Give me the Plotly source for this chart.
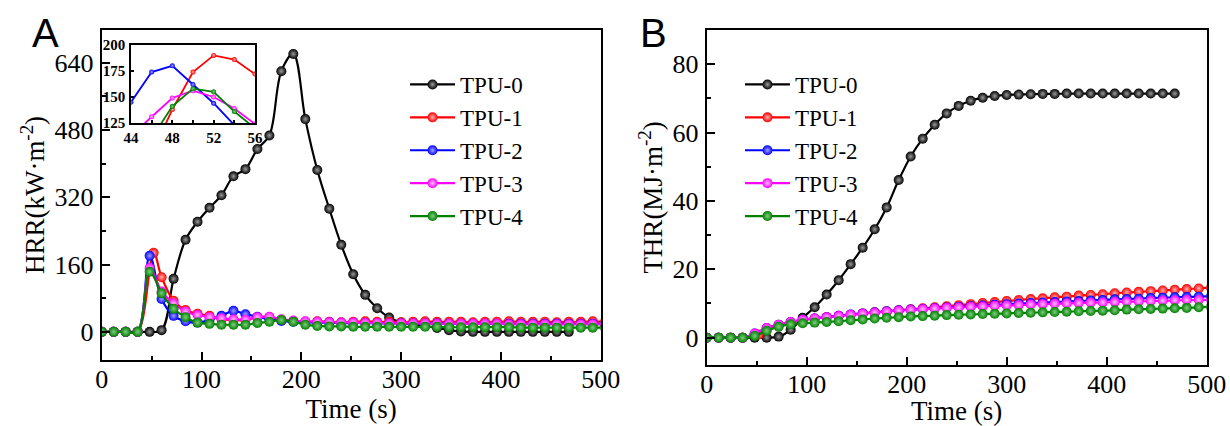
import plotly.graph_objects as go

# time axis (s); TPU-1 was sampled with its peak at 52 s
time_s = [0, 12, 24, 36, 48, 60, 72, 84, 96, 108, 120, 132, 144, 156, 168, 180, 192, 204, 216, 228,
          240, 252, 264, 276, 288, 300, 312, 324, 336, 348, 360, 372, 384, 396, 408, 420, 432, 444,
          456, 468, 480, 492, 504]
time_tpu0 = time_s[:40]
time_tpu1 = [0, 12, 24, 36, 52, 60, 72, 84, 96, 108, 120, 132, 144, 156, 168, 180, 192, 204, 216, 228,
             240, 252, 264, 276, 288, 300, 312, 324, 336, 348, 360, 372, 384, 396, 408, 420, 432, 444,
             456, 468, 480, 492, 504]

# heat release rate, kW/m2
hrr_tpu0 = [0, 0, 0, 0, 0, 4, 126, 219, 262, 295, 325, 370, 387, 435, 467, 620, 661, 506, 385, 293,
            207, 137, 88, 56, 34, 22, 18, 14, 9, 4, 1, 0, 0, 0, 0, 0, 0, 0, 0, 0]
hrr_tpu1 = [0, 0, 0, 0, 188, 130, 74, 52, 43, 38, 30, 28, 28, 35, 35, 28, 25, 24, 25, 24, 23, 24,
            25, 24, 24, 23, 24, 25, 24, 24, 24, 23, 24, 24, 25, 24, 24, 24, 23, 24, 24, 25, 24]
hrr_tpu2 = [0, 0, 0, 0, 181, 78, 38, 25, 22, 28, 38, 50, 42, 36, 30, 26, 24, 23, 22, 22, 21, 21,
            21, 20, 20, 20, 20, 20, 20, 19, 19, 19, 19, 19, 19, 19, 19, 19, 19, 19, 19, 19, 19]
hrr_tpu3 = [0, 0, 0, 0, 152, 96, 68, 48, 40, 35, 32, 30, 29, 35, 36, 30, 27, 25, 24, 23, 22, 22,
            21, 21, 20, 20, 20, 20, 19, 19, 19, 19, 19, 19, 18, 18, 18, 18, 18, 18, 18, 18, 18]
hrr_tpu4 = [0, 0, 0, 0, 143, 92, 55, 35, 22, 19, 17, 17, 17, 21, 24, 28, 24, 17, 14, 13, 13, 12,
            12, 12, 12, 12, 12, 12, 12, 11, 11, 11, 11, 11, 11, 10, 10, 10, 10, 10, 10, 10, 10]

# total heat release, MJ/m2
thr_tpu0 = [0, 0, 0, 0, 0, 0, 0.3, 2.3, 5.8, 8.9, 12.6, 16.8, 21.5, 26.3, 31.7, 38.1, 46.1, 53.0,
            58.2, 62.3, 65.6, 67.8, 69.3, 70.2, 70.7, 71.0, 71.1, 71.2, 71.3, 71.3, 71.4, 71.4, 71.4,
            71.4, 71.4, 71.4, 71.4, 71.4, 71.4, 71.4]
thr_tpu1 = [0, 0, 0, 0, 0.9, 2.4, 3.6, 4.5, 5.1, 5.6, 6.0, 6.4, 6.7, 7.1, 7.4, 7.7, 8.0, 8.3, 8.6,
            8.9, 9.2, 9.5, 9.8, 10.1, 10.4, 10.7, 11.0, 11.3, 11.5, 11.8, 12.0, 12.3, 12.5, 12.7,
            13.0, 13.2, 13.4, 13.6, 13.8, 14.0, 14.2, 14.4, 14.6]
thr_tpu2 = [0, 0, 0, 0, 1.2, 2.8, 3.8, 4.6, 5.2, 5.6, 6.0, 6.4, 6.8, 7.1, 7.4, 7.7, 8.0, 8.2, 8.4,
            8.6, 8.8, 9.0, 9.2, 9.4, 9.6, 9.8, 10.0, 10.1, 10.3, 10.4, 10.6, 10.7, 10.9, 11.0, 11.2,
            11.3, 11.4, 11.6, 11.7, 11.8, 11.9, 12.0, 12.1]
thr_tpu3 = [0, 0, 0, 0, 1.2, 2.8, 3.8, 4.6, 5.2, 5.6, 6.0, 6.3, 6.7, 7.0, 7.3, 7.6, 7.9, 8.1, 8.3,
            8.5, 8.7, 8.8, 9.0, 9.1, 9.3, 9.4, 9.5, 9.7, 9.8, 9.9, 10.0, 10.1, 10.2, 10.3, 10.4,
            10.5, 10.6, 10.7, 10.8, 10.9, 11.0, 11.0, 11.1]
thr_tpu4 = [0, 0, 0, 0, 0.5, 2.0, 3.2, 3.9, 4.2, 4.4, 4.6, 4.8, 5.1, 5.3, 5.6, 5.8, 6.0, 6.2, 6.3,
            6.4, 6.6, 6.7, 6.8, 6.9, 7.0, 7.1, 7.2, 7.3, 7.4, 7.5, 7.6, 7.7, 7.8, 7.9, 8.0, 8.2,
            8.3, 8.4, 8.5, 8.6, 8.7, 8.9, 9.0]

# inset: HRR peak region, 2 s sampling
inset_time = [44, 46, 48, 50, 52, 54, 56]
inset_tpu1 = [40, 95, 138, 174, 190, 186, 172]
inset_tpu2 = [145, 174, 180, 162, 144, 123, 100]
inset_tpu3 = [112, 131, 149, 156, 150, 139, 124]
inset_tpu4 = [80, 110, 141, 158, 155, 136, 120]

names = ["TPU-0", "TPU-1", "TPU-2", "TPU-3", "TPU-4"]
colors = ["#000000", "#ff0000", "#0000ff", "#ff00ff", "#008000"]
shine = ["#9a9a9a", "#ffb0b0", "#a0a0ff", "#ffc0ff", "#7fcc7f"]

SERIF = "Liberation Serif, Times New Roman, serif"

fig = go.Figure()


def add_series(x, y, i, xaxis, yaxis, legend=None, size=10, width=2.2, spline=True):
    fig.add_trace(go.Scatter(
        x=x, y=y, name=names[i], mode="lines+markers",
        line=dict(color=colors[i], width=width, shape="spline" if spline else "linear", smoothing=1),
        marker=dict(size=size, color=colors[i], line=dict(width=0),
                    gradient=dict(type="radial", color=shine[i])),
        xaxis=xaxis, yaxis=yaxis,
        legend=legend or "legend", showlegend=legend is not None,
    ))


hrr = [hrr_tpu0, hrr_tpu1, hrr_tpu2, hrr_tpu3, hrr_tpu4]
thr = [thr_tpu0, thr_tpu1, thr_tpu2, thr_tpu3, thr_tpu4]
times = [time_tpu0, time_tpu1, time_s, time_s, time_s]
for i in range(5):
    add_series(times[i], hrr[i], i, "x", "y", legend="legend")
for i in range(5):
    add_series(times[i], thr[i], i, "x3", "y3", legend="legend2")
for i, vals in zip([1, 2, 3, 4], [inset_tpu1, inset_tpu2, inset_tpu3, inset_tpu4]):
    add_series(inset_time, vals, i, "x2", "y2", size=5, width=1.8, spline=False)

frame = dict(showline=True, linecolor="black", linewidth=2, mirror=True, showgrid=False,
             zeroline=False, automargin=False, ticks="inside", ticklen=8, tickwidth=1.5,
             tickcolor="black", tickfont=dict(family=SERIF, size=26, color="black"),
             ticklabeloverflow="allow")
minor = dict(ticks="inside", ticklen=4, tickwidth=1.5, tickcolor="black", showgrid=False)
title_font = dict(family=SERIF, size=27, color="black")
legend_style = dict(font=dict(family=SERIF, size=23, color="black"), bgcolor="rgba(0,0,0,0)",
                    xanchor="left", yanchor="top", itemwidth=45, tracegroupgap=0)
letter_font = dict(family="Liberation Sans, Arial", size=40, color="black")

fig.update_layout(
    template="none",
    width=1230, height=426,
    margin=dict(l=0, r=0, t=0, b=0),
    paper_bgcolor="white", plot_bgcolor="white",
    font=dict(family=SERIF, color="black"),
    xaxis=dict(frame, domain=[0.0827, 0.4884], range=[0, 500], dtick=100, anchor="y",
               minor=dict(minor, dtick=50), ticklabelstandoff=-5,
               title=dict(text="Time (s)", font=title_font, standoff=1)),
    yaxis=dict(frame, domain=[0.1549, 0.9296], range=[-67, 718], dtick=160, anchor="x",
               minor=dict(minor, dtick=80), ticklabelstandoff=1,
               title=dict(text="HRR(kW·m<sup>-2</sup>)", font=title_font, standoff=2)),
    xaxis3=dict(frame, domain=[0.5745, 0.9811], range=[0, 500], dtick=100, anchor="y3",
                minor=dict(minor, dtick=50), ticklabelstandoff=-5,
                title=dict(text="Time (s)", font=title_font, standoff=1)),
    yaxis3=dict(frame, domain=[0.1432, 0.9296], range=[-8, 90], dtick=20, anchor="x3",
                minor=dict(minor, dtick=10), ticklabelstandoff=1,
                title=dict(text="THR(MJ·m<sup>-2</sup>)", font=title_font, standoff=2)),
    xaxis2=dict(frame, domain=[0.1065, 0.2073], range=[44, 56], anchor="y2",
                tickvals=[44, 48, 52, 56], ticklen=3, linewidth=1.5,
                tickfont=dict(family=SERIF, size=15, color="black", weight="bold"),
                minor=dict(minor, dtick=2, ticklen=3)),
    yaxis2=dict(frame, domain=[0.7113, 0.8944], range=[125, 200], dtick=25, anchor="x2",
                ticklen=3, linewidth=1.5, ticklabelstandoff=1,
                tickfont=dict(family=SERIF, size=15, color="black", weight="bold")),
    legend=dict(legend_style, x=0.3293, y=0.8521),
    legend2=dict(legend_style, x=0.6016, y=0.8521),
    annotations=[
        dict(text="A", x=0.0244, y=0.978, xref="paper", yref="paper", xanchor="left",
             yanchor="top", showarrow=False, font=letter_font),
        dict(text="B", x=0.5187, y=0.978, xref="paper", yref="paper", xanchor="left",
             yanchor="top", showarrow=False, font=letter_font),
    ],
)

# drop the browser's default 8 px body margin so the figure fills the window
fig.write_html("out.html", config={"displayModeBar": False},
               post_script="document.body.style.margin = '0';")
